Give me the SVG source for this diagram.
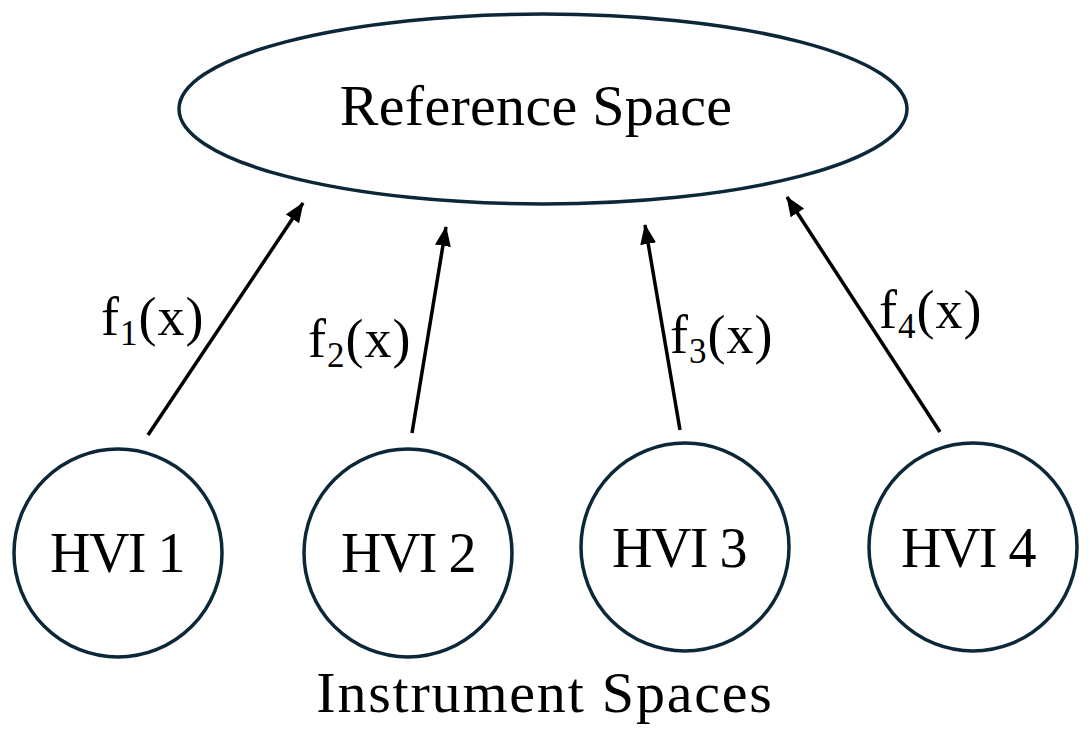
<svg xmlns="http://www.w3.org/2000/svg" width="1090" height="735" viewBox="0 0 1090 735">
<style>
.shape{fill:#fff;stroke:#0c2838;stroke-width:3.5}
.t{font-family:"Liberation Serif","Times New Roman",serif;fill:#000}
.big{font-size:58px}
.hvi{font-size:56px;letter-spacing:-1.5px}
.lbl{font-size:54px;letter-spacing:1px}
.sub{font-size:35px}
.conn{stroke:#000;stroke-width:3.5;fill:none;marker-end:url(#ah)}
</style>
<defs>
<marker id="ah" markerUnits="userSpaceOnUse" markerWidth="22" markerHeight="18" refX="19" refY="8" orient="auto">
<path d="M0,0 L20,8 L0,16 Z" fill="#000"/>
</marker>
</defs>
<rect width="1090" height="735" fill="#fff"/>
<g id="reference-space">
<ellipse class="shape" cx="543" cy="109" rx="364" ry="95"/>
<text class="t big" x="536" y="125" text-anchor="middle" style="letter-spacing:0.3px">Reference Space</text>
</g>
<g id="hvi1">
<circle class="shape" cx="118" cy="553" r="104"/>
<text class="t hvi" x="117" y="572" text-anchor="middle">HVI 1</text>
</g>
<g id="hvi2">
<circle class="shape" cx="408" cy="553" r="104"/>
<text class="t hvi" x="408" y="572" text-anchor="middle">HVI 2</text>
</g>
<g id="hvi3">
<circle class="shape" cx="685" cy="547" r="104"/>
<text class="t hvi" x="679" y="567" text-anchor="middle">HVI 3</text>
</g>
<g id="hvi4">
<circle class="shape" cx="973" cy="547" r="104"/>
<text class="t hvi" x="968" y="567" text-anchor="middle">HVI 4</text>
</g>
<g id="connectors">
<line class="conn" x1="148" y1="435" x2="303" y2="203"/>
<line class="conn" x1="412" y1="433" x2="446" y2="227"/>
<line class="conn" x1="680" y1="430" x2="645" y2="225"/>
<line class="conn" x1="940" y1="432" x2="787" y2="197"/>
</g>
<g id="labels">
<text class="t lbl" x="101" y="335">f<tspan class="sub" dy="10">1</tspan><tspan dy="-10">(x)</tspan></text>
<text class="t lbl" x="308" y="357">f<tspan class="sub" dy="10">2</tspan><tspan dy="-10">(x)</tspan></text>
<text class="t lbl" x="670" y="353">f<tspan class="sub" dy="10">3</tspan><tspan dy="-10">(x)</tspan></text>
<text class="t lbl" x="879" y="328">f<tspan class="sub" dy="10">4</tspan><tspan dy="-10">(x)</tspan></text>
<text class="t big" x="545" y="712" text-anchor="middle" style="letter-spacing:1.8px">Instrument Spaces</text>
</g>
</svg>
